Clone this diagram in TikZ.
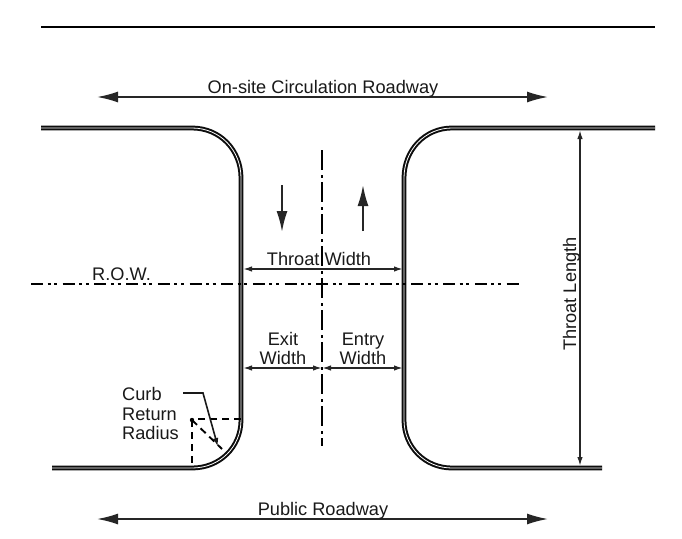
\documentclass[tikz,border=0pt]{standalone}
\usepackage{fontspec}
\setmainfont{Liberation Sans}
\usetikzlibrary{arrows.meta}
\tikzset{
 x=1pt,y=-1pt,
 curb/.style={draw=black!95,line width=2pt,double=white,double distance=0.8pt},
 lbl/.style={inner sep=0pt,font=\fontsize{18.2}{20}\selectfont,text=black!90,align=center},
 dim/.style={draw=black!85,line width=1.6pt,{Latex[length=9pt,width=5.5pt]}-{Latex[length=9pt,width=5.5pt]}},
 bigdim/.style={draw=black!85,line width=1.7pt,{Latex[length=21pt,width=11pt]}-{Latex[length=21pt,width=11pt]}},
 flow/.style={draw=black!85,line width=2pt,-{Latex[length=21pt,width=11pt]}},
 cline/.style={draw=black,line width=2.1pt,dash pattern=on 20pt off 5pt on 3pt off 4pt},
 rline/.style={draw=black,line width=2.1pt,dash pattern=on 12pt off 4.5pt on 3pt off 3.6pt on 3pt off 5.6pt},
 rad/.style={draw=black,line width=1.9pt,dash pattern=on 7pt off 5pt},
}
\begin{document}
\begin{tikzpicture}
\useasboundingbox (0,0) rectangle (682,538);
\fill[white] (0,0) rectangle (682,538);
% top boundary
\coordinate (tl) at (41,27); \coordinate (tr) at (655,27);
\draw[black,line width=1.8pt] (tl) -- (tr);
% curbs
\path[curb] (41,128) -- (192,128) .. controls (220,128) and (241,150) .. (241,178) -- (241,420) .. controls (241,447) and (220,468) .. (192,468) -- (52,468);
\path[curb] (655,128) -- (452,128) .. controls (425,128) and (404,150) .. (404,178) -- (404,420) .. controls (404,447) and (425,468) .. (452,468) -- (602,468);
% centre lines
\coordinate (cT) at (322,150); \coordinate (cB) at (322,446);
\coordinate (rL) at (31,284); \coordinate (rR) at (519,284);
\draw[cline] (cT) -- (cB);
\draw[rline] (rL) -- (rR);
% roadway dimensions
\coordinate (oL) at (97,97); \coordinate (oR) at (548,97);
\coordinate (pL) at (97,519); \coordinate (pR) at (548,519);
\draw[bigdim] (oL) -- (oR);
\draw[bigdim] (pL) -- (pR);
\node[lbl,anchor=base] (onsite) at (323,93) {On-site Circulation Roadway};
\node[lbl,anchor=base] (public) at (323,515) {Public Roadway};
% flow arrows
\coordinate (dT) at (282,185); \coordinate (dB) at (282,232);
\coordinate (uB) at (363,231); \coordinate (uT) at (363,185);
\draw[flow] (dT) -- (dB);
\draw[flow] (uB) -- (uT);
% widths
\coordinate (wL) at (243,269); \coordinate (wR) at (403,269);
\draw[dim] (wL) -- (wR);
\node[lbl,anchor=base] (tw) at (319,265) {Throat Width};
\node[lbl,anchor=base west] (row) at (92,280) {R.O.W.};
\coordinate (xL) at (243,368); \coordinate (xM) at (322,368); \coordinate (xR) at (403,368);
\draw[dim] (xL) -- (xM);
\draw[dim] (xM) -- (xR);
\node[lbl,anchor=base] (exit) at (283,345) {Exit};
\node[lbl,anchor=base] (exitw) at (283,364) {Width};
\node[lbl,anchor=base] (entry) at (363,345) {Entry};
\node[lbl,anchor=base] (entryw) at (363,364) {Width};
% throat length
\coordinate (lT) at (580,130); \coordinate (lB) at (580,466);
\draw[dim] (lT) -- (lB);
\node[lbl,anchor=base,rotate=90] (tl2) at (576,294) {Throat Length};
% curb return radius
\node[lbl,anchor=base west] (c1) at (122,400) {Curb};
\node[lbl,anchor=base west] (c2) at (122,420) {Return};
\node[lbl,anchor=base west] (c3) at (122,439) {Radius};
\coordinate (cc) at (192,420); \coordinate (ce) at (241,419); \coordinate (cs) at (192,468); \coordinate (ca) at (222,449);
\coordinate (ch) at (192,419);
\draw[rad] (cc) -- (cs);
\draw[rad] (ce) -- (ch);
\draw[rad] (cc) -- (ca);
\fill[black] (cc) circle (2.2pt);
\coordinate (k0) at (183,393); \coordinate (k1) at (203,393); \coordinate (k2) at (218,447);
\draw[draw=black!90,line width=1.6pt,-{Latex[length=9pt,width=5.5pt]}] (k0) -- (k1) -- (k2);
\end{tikzpicture}
\end{document}
